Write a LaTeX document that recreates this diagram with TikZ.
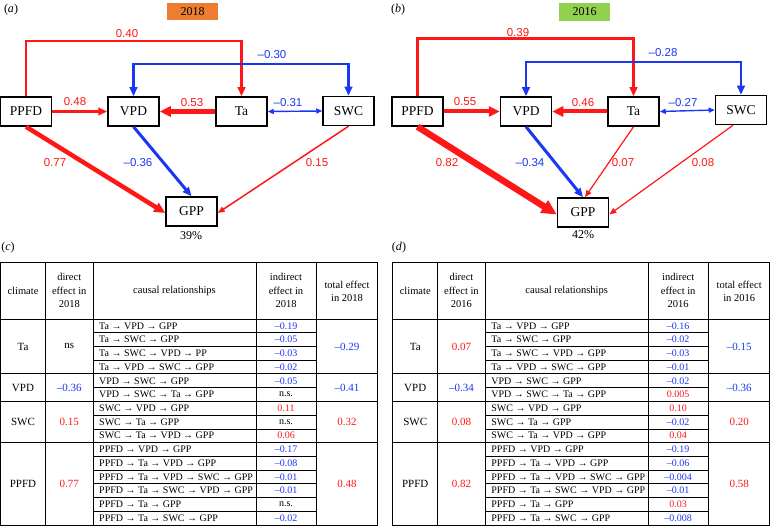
\documentclass[tikz,border=0pt]{standalone}
\usepackage{fontspec}
\setmainfont{Liberation Serif}
\newfontfamily\lsans{Liberation Sans}
\usetikzlibrary{arrows.meta}
\definecolor{cred}{RGB}{255,22,22}
\definecolor{cblue}{RGB}{25,55,245}
\definecolor{corange}{RGB}{237,125,49}
\definecolor{cgreen}{RGB}{146,208,80}
\begin{document}
\begin{tikzpicture}[x=1pt,y=-1pt,
  box/.style={draw, line width=1.5pt, minimum width=51pt, minimum height=29pt, inner sep=0pt, font=\fontsize{13.5}{15}\selectfont},
  lab/.style={font=\lsans\fontsize{11.5}{13}\selectfont, inner sep=0pt},
  rlab/.style={lab, text=cred}, blab/.style={lab, text=cblue},
  rline/.style={draw=cred}, bline/.style={draw=cblue},
  tipS/.style={-{Triangle[length=7pt,width=5.5pt]}},
  tipM/.style={-{Triangle[length=9pt,width=7.5pt]}},
  tipL/.style={-{Triangle[length=11pt,width=10pt]}},
  tipXL/.style={-{Triangle[length=15pt,width=14pt]}},
  dtipS/.style={{Triangle[length=6pt,width=5pt]}-{Triangle[length=6pt,width=5pt]}},
  dtipM/.style={{Triangle[length=9pt,width=7.5pt]}-{Triangle[length=9pt,width=7.5pt]}},
  plab/.style={font=\fontsize{12}{14}\selectfont, inner sep=0pt},
  yearbox/.style={minimum width=51pt, minimum height=17.5pt, inner sep=0pt, font=\fontsize{12}{14}\selectfont},
  cell/.style={font=\fontsize{10}{12}\selectfont, inner sep=0pt},
  hcell/.style={font=\fontsize{10.5}{13.5}\selectfont, inner sep=0pt, align=center},
  gcell/.style={font=\fontsize{11}{13}\selectfont, inner sep=0pt},
  outer/.style={line width=0.9pt},
  inner/.style={line width=0.6pt}
]
\useasboundingbox (0,0) rectangle (770,526);

% ---------------- panel (a) ----------------
\node[plab] (pa) at (11,10) {(\textit{a})};
\node[yearbox, fill=corange] (ya) at (192.5,11.5) {2018};
\node[box] (aPPFD) at (26,111.5) {PPFD};
\node[box] (aVPD) at (133.5,111.5) {VPD};
\node[box] (aTa) at (241.5,111.5) {Ta};
\node[box] (aSWC) at (348.5,111) {SWC};
\node[box] (aGPP) at (191.5,211.5) {GPP};
\node[plab] (a39) at (191,236) {39\%};

\draw[rline, line width=2.7pt, tipM] (aPPFD.north) -- (aPPFD.north |- 0,41) -| (aTa.north);
\draw[bline, line width=2.5pt, dtipM] (aVPD.north) -- (aVPD.north |- 0,64) -| (aSWC.north);
\draw[rline, line width=3pt, tipM] (aPPFD.east) -- (aVPD.west);
\draw[rline, line width=5pt, tipL] (aTa.west) -- (aVPD.east);
\draw[bline, line width=1.4pt, dtipS] (aTa.east) -- (aSWC.west);
\draw[rline, line width=4.5pt, tipL] (aPPFD.south) -- ([yshift=-1.5pt]aGPP.west);
\draw[bline, line width=3pt, tipM] (aVPD.south) -- (aGPP.north);
\draw[rline, line width=1.5pt, tipS] (aSWC.south) -- ([yshift=-1.5pt]aGPP.east);

\node[rlab] (l040) at (127,34) {0.40};
\node[blab] (l030) at (272,55) {–0.30};
\node[rlab] (l048) at (75,102) {0.48};
\node[rlab] (l053) at (192,103) {0.53};
\node[blab] (l031) at (288,103) {–0.31};
\node[rlab] (l077) at (55,163) {0.77};
\node[blab] (l036) at (138,163) {–0.36};
\node[rlab] (l015) at (317,163) {0.15};

% ---------------- panel (b) ----------------
\node[plab] (pb) at (398,10) {(\textit{b})};
\node[yearbox, fill=cgreen] (yb) at (584.5,12) {2016};
\node[box] (bPPFD) at (417.5,111.5) {PPFD};
\node[box] (bVPD) at (526,111.5) {VPD};
\node[box] (bTa) at (633.5,111.5) {Ta};
\node[box] (bSWC) at (741,110) {SWC};
\node[box] (bGPP) at (583,212.5) {GPP};
\node[plab] (b42) at (583,235) {42\%};

\draw[rline, line width=3pt, tipM] (bPPFD.north) -- (bPPFD.north |- 0,39) -| (bTa.north);
\draw[bline, line width=2.5pt, dtipM] (bVPD.north) -- (bVPD.north |- 0,62) -| (bSWC.north);
\draw[rline, line width=4pt, tipL] (bPPFD.east) -- (bVPD.west);
\draw[rline, line width=4pt, tipL] (bTa.west) -- (bVPD.east);
\draw[bline, line width=1.4pt, dtipS] (bTa.east) -- (bSWC.west);
\draw[rline, line width=6.5pt, tipXL] (bPPFD.south) -- ([yshift=-2pt]bGPP.west);
\draw[bline, line width=3pt, tipM] (bVPD.south) -- (bGPP.north);
\draw[rline, line width=1.2pt, tipS] (bTa.south) -- ([xshift=2pt]bGPP.north);
\draw[rline, line width=1.2pt, tipS] ([xshift=-8pt]bSWC.south) -- ([yshift=-2pt]bGPP.east);

\node[rlab] (l039) at (518,33) {0.39};
\node[blab] (l028) at (663,53) {–0.28};
\node[rlab] (l055) at (465,102) {0.55};
\node[rlab] (l046) at (583,103) {0.46};
\node[blab] (l027) at (683,103) {–0.27};
\node[rlab] (l082) at (447,163) {0.82};
\node[blab] (l034) at (530,163) {–0.34};
\node[rlab] (l007) at (623,163) {0.07};
\node[rlab] (l008) at (703,163) {0.08};

% ---------------- tables: grids ----------------
\node[plab] (pc) at (8,248) {(\textit{c})};
\node[plab] (pd) at (399,248) {(\textit{d})};

\foreach \sx/\tn in {0/c, 392.2/d}{
\begin{scope}[xshift=\sx]
  \draw[outer] (0.5,262.5) rectangle (377.5,524.95);
  \foreach \xx in {45.5,93,256,316}{ \draw[outer] (\xx,262.5) -- (\xx,524.95); }
  \foreach \yy in {319,373.92,401.38,442.57}{ \draw[outer] (0.5,\yy) -- (377.5,\yy); }
  \foreach \yy in {332.73,346.46,360.19,387.65,415.11,428.84,456.3,470.03,483.76,497.49,511.22}{ \draw[inner] (93,\yy) -- (316,\yy); }
  \node[hcell] (\tn h1) at (23,290.5) {climate};
  \node[hcell] (\tn h3) at (174.5,290.5) {causal relationships};
  \node[gcell] (\tn g1) at (23,346.46) {Ta};
  \node[gcell] (\tn g2) at (23,387.65) {VPD};
  \node[gcell] (\tn g3) at (23,421.98) {SWC};
  \node[gcell] (\tn g4) at (23,483.76) {PPFD};
  \foreach \i/\t in {0/{Ta → VPD → GPP}, 1/{Ta → SWC → GPP}, 3/{Ta → VPD → SWC → GPP},
     4/{VPD → SWC → GPP}, 5/{VPD → SWC → Ta → GPP}, 6/{SWC → VPD → GPP}, 7/{SWC → Ta → GPP},
     8/{SWC → Ta → VPD → GPP}, 9/{PPFD → VPD → GPP}, 10/{PPFD → Ta → VPD → GPP},
     11/{PPFD → Ta → VPD → SWC → GPP}, 12/{PPFD → Ta → SWC → VPD → GPP}, 13/{PPFD → Ta → GPP},
     14/{PPFD → Ta → SWC → GPP}}{
    \node[cell, anchor=west] (\tn r\i) at (99,325.87+13.73*\i) {\t};
  }
\end{scope}
}
% differing causal text in row 2
\node[cell, anchor=west] (cr2) at (99,353.33) {Ta → SWC → VPD → PP};
\node[cell, anchor=west] (dr2) at (491.2,353.33) {Ta → SWC → VPD → GPP};

% headers with year
\node[hcell] (ch2) at (69.25,290.5) {direct\\effect in\\2018};
\node[hcell] (ch4) at (286,290.5) {indirect\\effect in\\2018};
\node[hcell] (ch5) at (347,291.5) {total effect\\in 2018};
\node[hcell] (dh2) at (461.45,290.5) {direct\\effect in\\2016};
\node[hcell] (dh4) at (678.2,290.5) {indirect\\effect in\\2016};
\node[hcell] (dh5) at (739.2,291.5) {total effect\\in 2016};

% table (c) values
\node[gcell] (cd1) at (69.25,346.46) {ns};
\node[gcell, text=cblue] (cd2) at (69.25,387.65) {–0.36};
\node[gcell, text=cred] (cd3) at (69.25,421.98) {0.15};
\node[gcell, text=cred] (cd4) at (69.25,483.76) {0.77};
\node[gcell, text=cblue] (ct1) at (347,346.46) {–0.29};
\node[gcell, text=cblue] (ct2) at (347,387.65) {–0.41};
\node[gcell, text=cred] (ct3) at (347,421.98) {0.32};
\node[gcell, text=cred] (ct4) at (347,483.76) {0.48};
\foreach \i/\v/\c in {0/–0.19/cblue, 1/–0.05/cblue, 2/–0.03/cblue, 3/–0.02/cblue, 4/–0.05/cblue,
   5/n.s./black, 6/0.11/cred, 7/n.s./black, 8/0.06/cred, 9/–0.17/cblue, 10/–0.08/cblue,
   11/–0.01/cblue, 12/–0.01/cblue, 13/n.s./black, 14/–0.02/cblue}{
  \node[cell, text=\c] (cv\i) at (286,325.87+13.73*\i) {\v};
}

% table (d) values
\node[gcell, text=cred] (dd1) at (461.45,346.46) {0.07};
\node[gcell, text=cblue] (dd2) at (461.45,387.65) {–0.34};
\node[gcell, text=cred] (dd3) at (461.45,421.98) {0.08};
\node[gcell, text=cred] (dd4) at (461.45,483.76) {0.82};
\node[gcell, text=cblue] (dt1) at (739.2,346.46) {–0.15};
\node[gcell, text=cblue] (dt2) at (739.2,387.65) {–0.36};
\node[gcell, text=cred] (dt3) at (739.2,421.98) {0.20};
\node[gcell, text=cred] (dt4) at (739.2,483.76) {0.58};
\foreach \i/\v/\c in {0/–0.16/cblue, 1/–0.02/cblue, 2/–0.03/cblue, 3/–0.01/cblue, 4/–0.02/cblue,
   5/0.005/cred, 6/0.10/cred, 7/–0.02/cblue, 8/0.04/cred, 9/–0.19/cblue, 10/–0.06/cblue,
   11/–0.004/cblue, 12/–0.01/cblue, 13/0.03/cred, 14/–0.008/cblue}{
  \node[cell, text=\c] (dv\i) at (678.2,325.87+13.73*\i) {\v};
}
\end{tikzpicture}
\end{document}
